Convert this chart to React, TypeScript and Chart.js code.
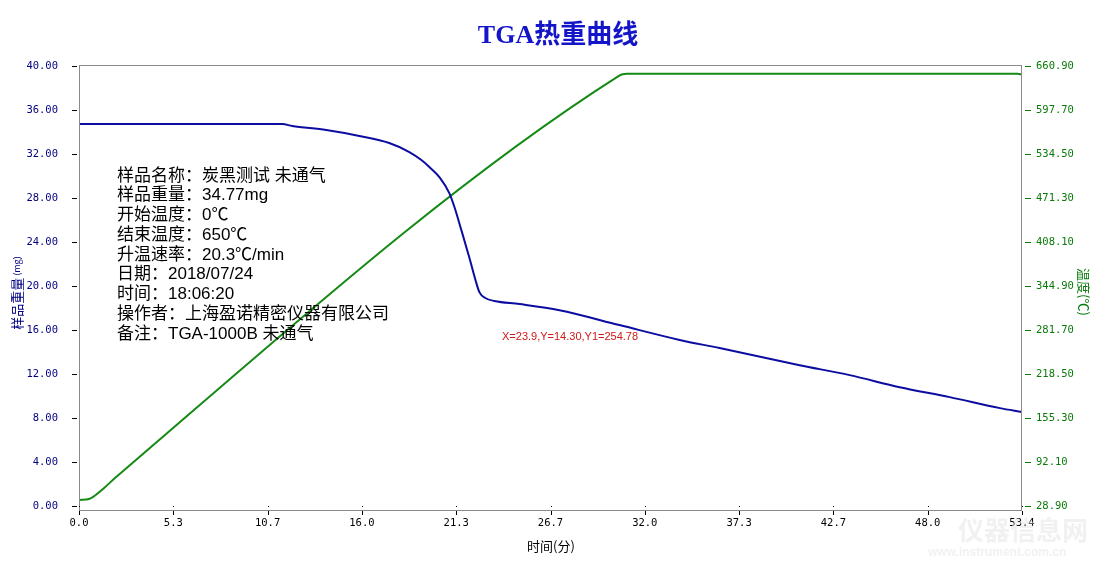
import React, { useEffect, useRef } from 'react';
import { Chart, registerables } from 'chart.js';

Chart.register(...registerables);

// ---- Data ----
const chartTitle = 'TGA热重曲线';
const xAxisTitle = '时间(分)';
const leftAxisTitle = '样品重量';
const leftAxisUnit = '(mg)';
const rightAxisTitle = '温度(℃)';

// Weight (mg) vs time (min)
const weightTime = [0, 11.5, 12.06, 13.99, 15.86, 17.55, 18.69, 19.37, 19.82, 20.39, 20.95, 21.24, 21.63, 22.09, 22.43, 22.65, 22.99, 23.5, 24.92, 27.18, 30.58, 33.98, 36.24, 40.77, 43.6, 46.43, 49.26, 52.1, 53.35];
const weightValues = [34.72, 34.72, 34.55, 34.18, 33.64, 33.0, 32.18, 31.45, 30.82, 29.9, 28.45, 27.18, 25.09, 22.55, 20.55, 19.45, 18.91, 18.64, 18.36, 17.8, 16.45, 15.1, 14.36, 12.8, 11.9, 10.8, 9.9, 8.9, 8.55];

// Temperature (°C) vs time (min)
const tempTime = [0, 0.57, 0.85, 1.42, 2.1, 30.5, 30.75, 31.0, 53.1, 53.35];
const tempValues = [37.5, 39, 43, 54.8, 70.6, 646, 649, 649.5, 649.5, 648.5];

// Tick values / labels
const xTickValues = [0, 5.335, 10.67, 16.005, 21.34, 26.675, 32.01, 37.345, 42.68, 48.015, 53.35];
const xTickLabels = ['0.0', '5.3', '10.7', '16.0', '21.3', '26.7', '32.0', '37.3', '42.7', '48.0', '53.4'];
const weightTicks = [0, 4, 8, 12, 16, 20, 24, 28, 32, 36, 40];
const tempTicks = [28.9, 92.1, 155.3, 218.5, 281.7, 344.9, 408.1, 471.3, 534.5, 597.7, 660.9];

const infoLines = [
  '样品名称：炭黑测试 未通气',
  '样品重量：34.77mg',
  '开始温度：0℃',
  '结束温度：650℃',
  '升温速率：20.3℃/min',
  '日期：2018/07/24',
  '时间：18:06:20',
  '操作者：上海盈诺精密仪器有限公司',
  '备注：TGA-1000B 未通气',
];
const cursorText = 'X=23.9,Y=14.30,Y1=254.78';
const watermarkMain = '仪器信息网';
const watermarkSub = 'www.instrument.com.cn';

const NAVY = '#000080';
const GREEN = '#0a7a0a';
const CJK = '"Noto Sans CJK SC", "Liberation Sans", sans-serif';

const decorPlugin = {
  id: 'decor',
  afterDraw(chart: any) {
    const { ctx, chartArea } = chart;
    const { left, right, top, bottom } = chartArea;
    const sx = chart.scales.x;
    const sy = chart.scales.y;
    const sy1 = chart.scales.y1;
    ctx.save();

    // plot box
    ctx.strokeStyle = '#8a8a8a';
    ctx.lineWidth = 1;
    ctx.strokeRect(left + 0.5, top + 0.5, right - left - 1, bottom - top);

    // left ticks
    ctx.strokeStyle = '#000';
    weightTicks.forEach((v) => {
      const y = Math.round(sy.getPixelForValue(v)) + 0.5;
      ctx.beginPath();
      ctx.moveTo(left - 7, y);
      ctx.lineTo(left - 2, y);
      ctx.stroke();
    });
    // right ticks
    ctx.strokeStyle = GREEN;
    tempTicks.forEach((v) => {
      const y = Math.round(sy1.getPixelForValue(v)) + 0.5;
      ctx.beginPath();
      ctx.moveTo(right + 3, y);
      ctx.lineTo(right + 9, y);
      ctx.stroke();
    });
    // x ticks
    ctx.fillStyle = '#000';
    xTickValues.forEach((v) => {
      const x = Math.round(sx.getPixelForValue(v));
      ctx.fillRect(x, bottom + 1, 1, 4);
      ctx.fillRect(x, bottom - 4, 1, 1);
    });

    // watermark
    ctx.fillStyle = 'rgba(225,225,225,0.45)';
    ctx.font = `bold 26px ${CJK}`;
    ctx.textAlign = 'left';
    ctx.textBaseline = 'middle';
    ctx.fillText(watermarkMain, 958, 530);
    ctx.font = 'bold 12px "Liberation Sans", sans-serif';
    ctx.fillText(watermarkSub, 928, 553);

    // title
    ctx.fillStyle = '#1414c8';
    ctx.font = 'bold 26px "Liberation Serif", "Noto Sans CJK SC", serif';
    ctx.textAlign = 'center';
    ctx.textBaseline = 'middle';
    ctx.fillText(chartTitle, 558, 36);

    // info block
    ctx.fillStyle = '#000';
    ctx.font = `17px "Liberation Sans", "Noto Sans CJK SC", sans-serif`;
    ctx.textAlign = 'left';
    infoLines.forEach((line, i) => {
      ctx.fillText(line, 117, 176 + i * 19.75);
    });

    // cursor readout
    ctx.fillStyle = '#d01818';
    ctx.font = '11px "Liberation Sans", sans-serif';
    ctx.fillText(cursorText, 502, 337);

    // x axis title
    ctx.fillStyle = '#000';
    ctx.font = `13px ${CJK}`;
    ctx.textAlign = 'center';
    ctx.fillText(xAxisTitle, 551, 546);

    // left axis title (rotated)
    ctx.save();
    ctx.translate(17, 293);
    ctx.rotate(-Math.PI / 2);
    ctx.fillStyle = NAVY;
    ctx.font = `13px ${CJK}`;
    const w1 = ctx.measureText(leftAxisTitle).width;
    ctx.font = `9px ${CJK}`;
    const w2 = ctx.measureText(leftAxisUnit).width;
    const start = -(w1 + w2 + 2) / 2;
    ctx.textAlign = 'left';
    ctx.font = `13px ${CJK}`;
    ctx.fillText(leftAxisTitle, start, 0);
    ctx.font = `9px ${CJK}`;
    ctx.fillText(leftAxisUnit, start + w1 + 2, 0);
    ctx.restore();

    // right axis title (rotated)
    ctx.save();
    ctx.translate(1084, 292);
    ctx.rotate(Math.PI / 2);
    ctx.fillStyle = GREEN;
    ctx.font = `13px ${CJK}`;
    ctx.textAlign = 'center';
    ctx.fillText(rightAxisTitle, 0, 0);
    ctx.restore();

    ctx.restore();
  },
};

export default function App() {
  const canvasRef = useRef<HTMLCanvasElement | null>(null);

  useEffect(() => {
    if (!canvasRef.current) return;
    const weightData = weightTime.map((t, i) => ({ x: t, y: weightValues[i] }));
    const tempData = tempTime.map((t, i) => ({ x: t, y: tempValues[i] }));
    const tickFont = { family: '"DejaVu Sans Mono", monospace', size: 10.5 };

    const chart = new Chart(canvasRef.current, {
      type: 'line',
      data: {
        datasets: [
          {
            label: 'weight',
            data: weightData,
            yAxisID: 'y',
            borderColor: '#0c0ca0',
            borderWidth: 2,
            pointRadius: 0,
            cubicInterpolationMode: 'monotone',
          },
          {
            label: 'temp',
            data: tempData,
            yAxisID: 'y1',
            borderColor: '#148a14',
            borderWidth: 2,
            pointRadius: 0,
            cubicInterpolationMode: 'monotone',
          },
        ],
      },
      options: {
        animation: false,
        responsive: false,
        maintainAspectRatio: false,
        layout: { padding: { top: 65, left: 0, right: 0, bottom: 0 } },
        plugins: {
          legend: { display: false },
          title: { display: false },
          tooltip: { enabled: false },
        },
        scales: {
          x: {
            type: 'linear',
            min: 0,
            max: 53.35,
            grid: { display: false, drawTicks: false },
            border: { display: false },
            afterBuildTicks: (scale: any) => {
              scale.ticks = xTickValues.map((v) => ({ value: v }));
            },
            afterFit: (scale: any) => {
              scale.height = 67;
            },
            ticks: {
              autoSkip: false,
              maxRotation: 0,
              padding: 7,
              color: '#000',
              font: tickFont,
              callback: (_v: any, i: number) => xTickLabels[i],
            },
          },
          y: {
            type: 'linear',
            position: 'left',
            min: -0.36,
            max: 40.09,
            grid: { display: false, drawTicks: false },
            border: { display: false },
            afterBuildTicks: (scale: any) => {
              scale.ticks = weightTicks.map((v) => ({ value: v }));
            },
            afterFit: (scale: any) => {
              scale.width = 79;
            },
            ticks: {
              padding: 21,
              color: NAVY,
              font: tickFont,
              callback: (v: any) => Number(v).toFixed(2),
            },
          },
          y1: {
            type: 'linear',
            position: 'right',
            min: 23.2,
            max: 662.2,
            grid: { display: false, drawTicks: false },
            border: { display: false },
            afterBuildTicks: (scale: any) => {
              scale.ticks = tempTicks.map((v) => ({ value: v }));
            },
            afterFit: (scale: any) => {
              scale.width = 74;
            },
            ticks: {
              padding: 14,
              color: GREEN,
              font: tickFont,
              callback: (v: any) => Number(v).toFixed(2),
            },
          },
        },
      },
      plugins: [decorPlugin],
    } as any);

    return () => chart.destroy();
  }, []);

  return (
    <div style={{ position: 'fixed', left: 0, top: 0, width: 1096, height: 577, background: '#fff' }}>
      <canvas ref={canvasRef} width={1096} height={577} style={{ display: 'block' }} />
    </div>
  );
}
